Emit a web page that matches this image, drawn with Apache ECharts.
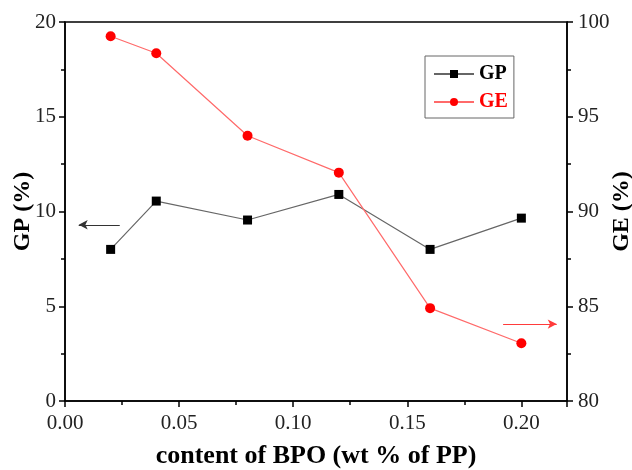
<!DOCTYPE html>
<html>
<head>
<meta charset="utf-8">
<script src="https://cdn.jsdelivr.net/npm/echarts@6/dist/echarts.min.js"></script>
<style>
html, body { margin: 0; padding: 0; background: #fff; }
#chart { width: 632px; height: 470px; }
</style>
</head>
<body>
<div id="chart"></div>
<script>
var bpo = [0.02, 0.04, 0.08, 0.12, 0.16, 0.20];
var gp = [8.0, 10.55, 9.55, 10.9, 8.0, 9.65];
var ge = [99.25, 98.35, 94.0, 92.05, 84.9, 83.05];

var serif = '"Liberation Serif", "Times New Roman", serif';

var chart = echarts.init(document.getElementById('chart'));

option = {
    backgroundColor: '#ffffff',
    animation: false,
    grid: {
        left: 65,
        right: 65,
        top: 22,
        bottom: 69,
        outerBoundsMode: 'none',
        containLabel: false,
        show: true,
        borderColor: '#000',
        borderWidth: 1.5
    },
    legend: {
        orient: 'vertical',
        left: 425,
        top: 56,
        width: 90,
        height: 57,
        padding: [8, 6, 6, 8],
        itemGap: 8,
        itemWidth: 40,
        itemHeight: 10,
        borderColor: '#666',
        borderWidth: 1,
        data: [
            { name: 'GP', textStyle: { color: '#000' } },
            { name: 'GE', textStyle: { color: '#ff0000' } }
        ],
        textStyle: {
            fontFamily: serif,
            fontWeight: 'bold',
            fontSize: 20
        }
    },
    xAxis: {
        type: 'value',
        min: 0,
        max: 0.22,
        interval: 0.05,
        name: 'content of BPO (wt % of PP)',
        nameLocation: 'middle',
        nameGap: 42,
        nameMoveOverlap: false,
        nameTextStyle: {
            fontFamily: serif,
            fontWeight: 'bold',
            fontSize: 26,
            color: '#000'
        },
        splitLine: { show: false },
        axisLine: { lineStyle: { color: '#000', width: 1.5 } },
        axisTick: { length: 6, lineStyle: { color: '#000', width: 1.5 } },
        minorTick: { show: true, splitNumber: 2, length: 4, lineStyle: { color: '#000', width: 1.5 } },
        axisLabel: {
            fontFamily: serif,
            fontSize: 21,
            color: '#222',
            margin: 12,
            showMaxLabel: false,
            formatter: function (v) { return v.toFixed(2); }
        }
    },
    yAxis: [
        {
            type: 'value',
            min: 0,
            max: 20,
            interval: 5,
            name: 'GP (%)',
            nameLocation: 'middle',
            nameRotate: 90,
            nameGap: 30,
            nameMoveOverlap: false,
            nameTextStyle: {
                fontFamily: serif,
                fontWeight: 'bold',
                fontSize: 24,
                color: '#000'
            },
            splitLine: { show: false },
            axisLine: { show: true, lineStyle: { color: '#000', width: 1.5 } },
            axisTick: { show: true, length: 6, lineStyle: { color: '#000', width: 1.5 } },
            minorTick: { show: true, splitNumber: 2, length: 4, lineStyle: { color: '#000', width: 1.5 } },
            axisLabel: {
                fontFamily: serif,
                fontSize: 21,
                color: '#222',
                margin: 9
            }
        },
        {
            type: 'value',
            min: 80,
            max: 100,
            interval: 5,
            position: 'right',
            name: 'GE (%)',
            nameLocation: 'middle',
            nameRotate: 90,
            nameGap: 43,
            nameMoveOverlap: false,
            nameTextStyle: {
                fontFamily: serif,
                fontWeight: 'bold',
                fontSize: 24,
                color: '#000'
            },
            splitLine: { show: false },
            axisLine: { show: true, lineStyle: { color: '#000', width: 1.5 } },
            axisTick: { show: true, length: 6, lineStyle: { color: '#000', width: 1.5 } },
            minorTick: { show: true, splitNumber: 2, length: 4, lineStyle: { color: '#000', width: 1.5 } },
            axisLabel: {
                fontFamily: serif,
                fontSize: 21,
                color: '#222',
                margin: 11
            }
        }
    ],
    series: [
        {
            name: 'GP',
            type: 'line',
            yAxisIndex: 0,
            data: bpo.map(function (x, i) { return [x, gp[i]]; }),
            symbol: 'rect',
            symbolSize: 9,
            itemStyle: { color: '#000' },
            lineStyle: { color: '#666', width: 1.2 },
            markLine: {
                silent: true,
                symbol: ['none', 'arrow'],
                symbolSize: [7, 9],
                label: { show: false },
                lineStyle: { color: '#333', width: 1, type: 'solid' },
                data: [[{ coord: [0.024, 9.3] }, { coord: [0.006, 9.3] }]]
            }
        },
        {
            name: 'GE',
            type: 'line',
            yAxisIndex: 1,
            data: bpo.map(function (x, i) { return [x, ge[i]]; }),
            symbol: 'circle',
            symbolSize: 10,
            itemStyle: { color: '#ff0000' },
            lineStyle: { color: '#ff6a6a', width: 1.2 },
            markLine: {
                silent: true,
                symbol: ['none', 'arrow'],
                symbolSize: [7, 9],
                label: { show: false },
                lineStyle: { color: '#ff3b3b', width: 1, type: 'solid' },
                data: [[{ coord: [0.192, 84.06] }, { coord: [0.2155, 84.06] }]]
            }
        }
    ]
};
chart.setOption(option);
</script>
</body>
</html>
